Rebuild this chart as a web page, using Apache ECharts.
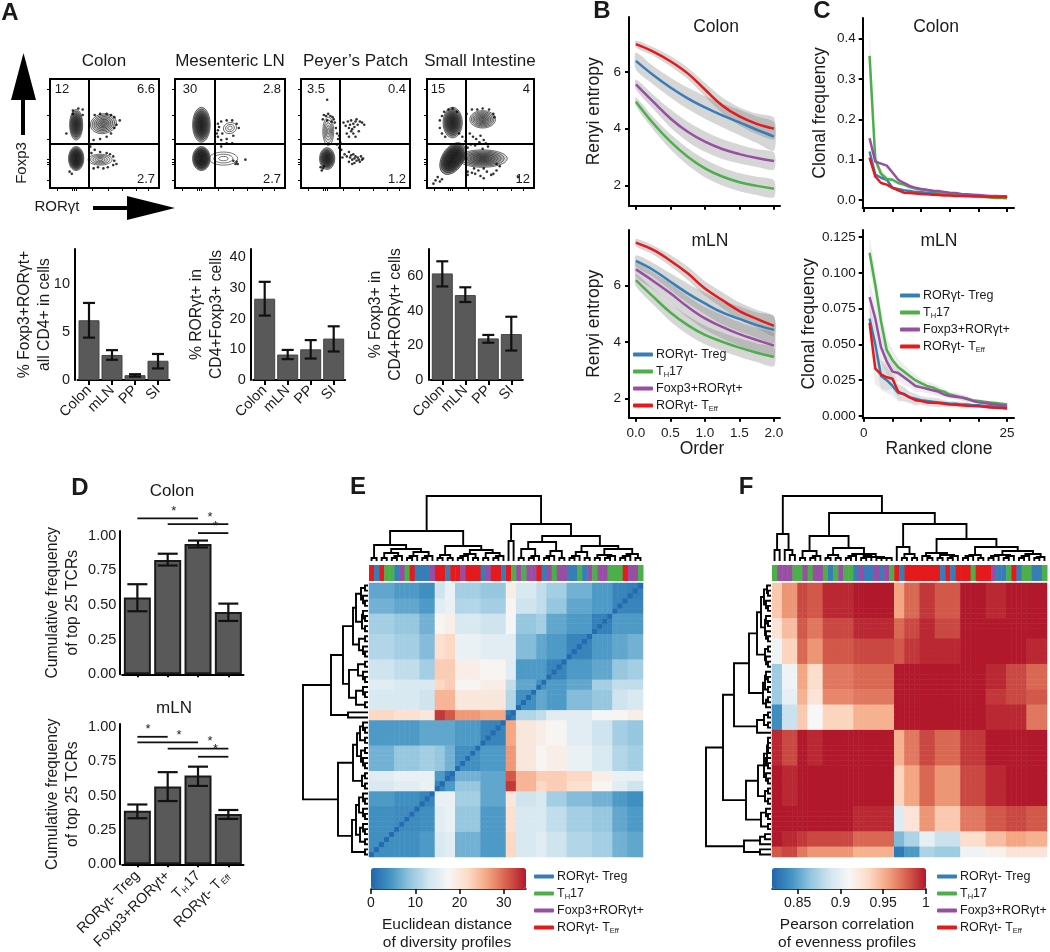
<!DOCTYPE html>
<html>
<head>
<meta charset="utf-8">
<title>Figure</title>
<script src="https://cdn.jsdelivr.net/npm/echarts@6/dist/echarts.min.js"></script>
<style>html,body{margin:0;padding:0;background:#fff}#fig{width:1050px;height:952px}</style>
</head>
<body>
<div id="fig"></div>
<script>
// ---- data ----
var subsetNames = ['RORγt- Treg', 'TH17', 'Foxp3+RORγt+', 'RORγt- TEff'];
var subsetColors = ['#377eb8', '#4daf4a', '#984ea3', '#e41a1c'];

// A: flow plots. gates in axis units, corner numbers [upper left, upper right, lower right]
var flowTitles = ['Colon', 'Mesenteric LN', 'Peyer’s Patch', 'Small Intestine'];
var flowCorners = [['12', '6.6', '2.7'], ['30', '2.8', '2.7'], ['3.5', '0.4', '1.2'], ['15', '4', '12']];
var gateX = 36, gateY = 41;
var flowTicksX = [7, 20, 22, 24, 39, 53, 66, 79, 90];
var flowTicksY = [7, 22, 24, 26, 45, 67, 91];
// cx, cy, rx, ry, rings, fill alpha, tilt
var colonBlobs = [[24, 58, 6, 14, 9, 0.28, 0], [24, 27, 7, 11, 9, 0.42, 0], [49, 59, 12, 9, 7, 0.1, 0.2], [46, 26, 11, 5, 5, 0.05, 0]];
var lnBlobs = [[24, 58, 8, 16, 9, 0.32, 0], [24, 27, 8, 11, 9, 0.46, 0], [50, 55, 6, 5, 3, 0, 0.3], [44, 27, 13, 6, 3, 0, 0]];
var ppBlobs = [[25, 52, 5, 13, 5, 0.05, 0], [24, 27, 7, 10, 8, 0.36, 0]];
var siBlobs = [[24, 60, 9, 14, 9, 0.3, 0], [52, 63, 12, 8, 8, 0.1, 0], [24, 27, 10, 16, 9, 0.44, -0.55], [52, 27, 23, 8, 8, 0.17, 0]];
var colonDots = [[21,71],[26,73],[30,72],[21,68],[30,67],[15,50],[41,67],[46,68],[52,68],[56,67],[59,65],[64,62],[61,58],[59,55],[56,50],[52,47],[46,45],[40,44],[37,38],[41,35],[58,29],[59,25],[61,22],[58,21],[53,19],[49,18],[44,19],[40,18],[18,15],[20,13],[38,32],[46,33],[52,32],[55,31]];
var lnDots = [[39,59],[42,61],[39,53],[39,47],[47,62],[52,62],[56,59],[58,55],[53,48],[47,45],[42,44],[38,50],[42,38],[47,41],[52,41],[53,25],[57,22],[64,26],[55,22],[40,56],[43,50],[56,24]];
var ppDots = [[24,81],[21,67],[23,66],[25,68],[27,66],[29,65],[20,63],[24,62],[28,61],[30,63],[31,60],[32,55],[33,50],[35,48],[34,45],[36,42],[33,40],[35,37],[37,35],[39,60],[41,57],[43,61],[44,55],[45,58],[46,62],[47,54],[48,59],[49,56],[50,61],[51,63],[52,58],[54,61],[56,60],[58,58],[42,50],[44,47],[46,52],[48,50],[50,47],[53,52],[40,31],[42,29],[44,33],[45,28],[46,30],[47,26],[48,31],[49,27],[50,29],[51,25],[52,28],[53,26],[54,24],[55,29],[56,26],[57,27],[49,23],[47,22],[44,24],[38,28],[19,16],[20,18],[18,19],[21,20]];
var siDots = [[12,62],[14,66],[16,70],[20,72],[24,73],[28,70],[12,55],[14,50],[17,47],[30,50],[33,47],[37,68],[42,72],[47,72],[52,73],[58,72],[62,68],[63,65],[40,50],[43,47],[46,45],[50,48],[41,40],[45,39],[49,42],[53,44],[55,41],[57,38],[52,36],[38,37],[36,43],[6,4],[8,7],[10,10],[12,6],[14,8],[38,15],[42,14],[45,13],[48,16],[50,11],[53,9],[56,15],[60,12],[62,13],[65,16],[68,20],[65,22],[85,10],[38,12],[44,18],[53,18]];

// A: bars
var tissueNames = ['Colon', 'mLN', 'PP', 'SI'];
var doubleAll = [6.2, 2.6, 0.5, 2.0];
var doubleAllErr = [[4.4, 8.0], [2.1, 3.1], [0.35, 0.6], [1.2, 2.7]];
var rorInFoxp3 = [26.5, 8.3, 10, 13.5];
var rorInFoxp3Err = [[21, 32], [6.8, 9.8], [7, 13], [9.3, 17.5]];
var foxp3InRor = [61.5, 49, 24, 26.5];
var foxp3InRorErr = [[54, 68.5], [45, 53.5], [21.5, 26], [17, 36.5]];

// B: Renyi entropy at orders 0..2
var orders = [0, 0.25, 0.5, 0.75, 1, 1.25, 1.5, 1.75, 2];
var colonTreg = [6.39, 5.89, 5.45, 5.07, 4.75, 4.47, 4.22, 3.96, 3.72];
var colonTh17 = [4.95, 4.19, 3.54, 3.01, 2.6, 2.31, 2.11, 1.98, 1.88];
var colonDouble = [5.56, 4.95, 4.36, 3.89, 3.54, 3.28, 3.1, 2.96, 2.86];
var colonTeff = [6.98, 6.72, 6.38, 5.95, 5.38, 4.82, 4.43, 4.17, 4.0];
var colonSpread = [[0.3, 0.32, 0.35, 0.38, 0.4, 0.42, 0.45, 0.47, 0.5], [0.15, 0.22, 0.27, 0.3, 0.32, 0.32, 0.32, 0.32, 0.3], [0.17, 0.25, 0.32, 0.35, 0.36, 0.35, 0.33, 0.31, 0.3], [0.12, 0.15, 0.18, 0.2, 0.24, 0.28, 0.32, 0.36, 0.38]];
var lnTreg = [6.88, 6.56, 6.14, 5.73, 5.37, 5.05, 4.82, 4.6, 4.43];
var lnTh17 = [6.2, 5.61, 5.05, 4.6, 4.25, 4.01, 3.8, 3.62, 3.47];
var lnDouble = [6.58, 6.17, 5.73, 5.25, 4.84, 4.54, 4.28, 4.07, 3.87];
var lnTeff = [7.53, 7.27, 6.89, 6.44, 5.9, 5.49, 5.1, 4.82, 4.57];
var lnSpread = [[0.2, 0.25, 0.3, 0.35, 0.38, 0.42, 0.45, 0.45, 0.48], [0.22, 0.28, 0.32, 0.33, 0.33, 0.33, 0.33, 0.33, 0.33], [0.25, 0.3, 0.35, 0.38, 0.4, 0.42, 0.42, 0.42, 0.42], [0.13, 0.16, 0.2, 0.24, 0.26, 0.28, 0.3, 0.32, 0.35]];

// C: clonal frequency by rank
var ranks = [1,2,3,4,5,6,7,8,9,10,11,12,13,14,15,16,17,18,19,20,21,22,23,24,25];
var cColonTreg = [.12,.063,.055,.05,.03,.027,.024,.022,.02,.019,.018,.017,.016,.015,.014,.013,.012,.011,.01,.009,.008,.008,.007,.007,.006];
var cColonTh17 = [.357,.1,.065,.052,.05,.042,.038,.032,.028,.026,.024,.022,.02,.018,.016,.014,.012,.011,.009,.008,.007,.006,.005,.005,.004];
var cColonDouble = [.153,.095,.09,.085,.068,.05,.042,.035,.03,.027,.025,.023,.022,.02,.018,.017,.015,.014,.013,.012,.011,.01,.01,.009,.009];
var cColonTeff = [.105,.058,.042,.038,.03,.024,.018,.017,.016,.015,.014,.013,.012,.011,.011,.01,.01,.009,.009,.009,.008,.008,.007,.007,.007];
var cColonBand = [.07,.02,.012,.008,.006,.005,.004,.004,.003,.003,.003,.003,.002,.002,.002,.002,.002,.002,.002,.002,.002,.002,.002,.002,.002];
var cLnTreg = [.068,.05,.028,.025,.021,.016,.0155,.013,.012,.011,.0105,.01,.0095,.009,.0085,.0085,.008,.008,.0075,.0075,.007,.007,.0065,.0065,.006];
var cLnTh17 = [.114,.0915,.066,.046,.039,.034,.031,.028,.025,.023,.021,.02,.018,.017,.015,.014,.013,.012,.011,.0105,.01,.0095,.009,.0085,.008];
var cLnDouble = [.083,.068,.048,.038,.031,.03,.027,.024,.021,.02,.019,.018,.017,.015,.014,.0135,.013,.012,.0105,.0095,.009,.0085,.008,.0075,.007];
var cLnTeff = [.065,.033,.029,.027,.026,.017,.015,.013,.011,.0105,.0095,.0092,.009,.0085,.008,.0078,.0075,.0072,.007,.0068,.0065,.006,.0058,.0055,.0052];
var cLnBand = [.011,.011,.01,.009,.007,.006,.005,.004,.004,.003,.003,.003,.003,.002,.002,.002,.002,.002,.001,.001,.001,.001,.001,.001,.001];

// D: cumulative frequency
var dNames = ['RORγt- Treg', 'Foxp3+RORγt+', 'T_H17', 'RORγt- T_Eff'];
var dColon = [0.555, 0.825, 0.94, 0.45];
var dColonErr = [[0.455, 0.65], [0.785, 0.87], [0.915, 0.965], [0.385, 0.51]];
var dLn = [0.39, 0.565, 0.645, 0.365];
var dLnErr = [[0.335, 0.435], [0.46, 0.67], [0.57, 0.71], [0.33, 0.395]];
// from bar, to bar, height, star position along the bars
var dColonSig = [[0, 2, 1.125, 1.2], [1, 3, 1.084, 2.4], [2, 3, 1.019, 2.58]];
var dLnSig = [[0, 1, 0.927, 0.35], [0, 2, 0.886, 1.37], [1, 3, 0.841, 2.4], [2, 3, 0.782, 2.58]];

// E: distance matrix in bands of cells, left to right = bottom to top, lower triangle
var eucBands = [5, 5, 3, 2, 2, 5, 5, 2, 4, 2, 4, 5, 4, 3, 3];
var eucBlocks = [
  [4],
  [4, 3.5],
  [5, 4, 3],
  [14, 15, 16, 3],
  [15, 16, 16, 5, 2],
  [7, 9, 10, 9, 7, 4],
  [5, 5, 6, 6, 6, 5, 3],
  [22, 21, 20, 33, 31, 27, 26, 2],
  [14, 14, 13, 25, 25, 20, 20, 11, 4],
  [15, 14, 14, 22, 23, 18, 19, 12, 6, 4],
  [13, 12, 10, 23, 23, 19, 18, 15, 5, 5, 3],
  [11, 10, 8, 21, 22, 16, 15, 15, 8, 6, 5, 3],
  [10, 9, 7, 18, 19, 14, 13, 17, 9, 10, 6, 5, 2.5],
  [7, 6, 5, 15, 16, 11, 10, 18, 13, 12, 9, 6, 5, 3],
  [6, 5, 4, 13, 16, 10, 9, 19, 14, 12, 10, 7, 5, 3, 2.5]
];
var eucStrip = 'RBRGGBPGRBBBPRRBRRPRRRBPRRBRGPGPPRBPGPPBBGBPGPPGGGRPPG';
var eucTree = (function () {
  var p = [3, 0, 0], t = [5, p, 0];
  return [65,
    [30, [16, p, [12, [8, p, t], [9, t, t]]], [15, [6, p, p], [11, [7, t, p], [8, p, t]]]],
    [37, [20, 0, 0], [25, [19, [12, p, t], [10, t, p]], [15, [9, t, p], [12, [6, p, t], [7, t, p]]]]]
  ];
})();

// F: correlation in bands of cells, rows top to bottom
var corColBands = [2, 3, 2, 3, 6, 8, 2, 3, 3, 5, 5, 4, 4, 4];
var corRowBands = [7, 4, 5, 5, 3, 5, 7, 8, 5, 3, 2];
var corBlocks = [
  [.94, .96, .985, .98, .995, 1, .955, .975, .99, .98, 1, .995, 1, 1],
  [.925, .945, .98, .97, .985, .995, .975, .985, .995, .985, 1, 1, 1, 1],
  [.905, .935, .975, .96, .98, .985, .98, .99, .995, .995, 1, 1, 1, .995],
  [.87, .905, .955, .93, .97, .975, 1, 1, 1, 1, 1, .995, .985, .975],
  [.87, .90, .95, .925, .965, .97, 1, 1, 1, 1, 1, .99, .985, .98],
  [.84, .885, .94, .91, .935, .95, 1, 1, 1, 1, 1, .995, .995, .97],
  [.995, .985, 1, .995, 1, 1, .95, .97, .985, .975, .99, 1, 1, 1],
  [1, .995, 1, 1, 1, 1, .935, .955, .975, .96, .985, .995, 1, 1],
  [1, 1, 1, 1, 1, .995, .895, .925, .96, .94, .97, .98, .985, .98],
  [1, .995, .99, .985, .985, .975, .86, .875, .9, .885, .93, .945, .955, .95],
  [.98, .985, .97, .96, .96, .95, .83, .845, .875, .87, .905, .915, .925, .925]
];
var corStrip = 'GPPPGGPGPPGBGPGGBPBBPBPGRBRRRRRRRBRBRRRGRRRPBBGRBGGBBG';
var corTree = (function () {
  var p = [3, 0, 0], t = [5, p, 0];
  return [65,
    [27, [11, 0, 0], [11, 0, [6, 0, 0]]],
    [48,
      [25, [10, p, t], [13, [6, p, p], [7, t, [4, t, [3, p, p]]]]],
      [37, [14, 0, [7, [3, 0, 0], [3, 0, 0]]],
        [22, [8, [5, 0, p], [6, p, t]], [14, [6, t, p], [10, [6, t, t], [7, t, [4, p, 0]]]]]]
    ]
  ];
})();
var rdBu = ['#2166ac', '#4393c3', '#92c5de', '#d1e5f0', '#f7f7f7', '#fddbc7', '#f4a582', '#d6604d', '#b2182b'];

// ---- option building ----
var FONT = '"Liberation Sans", Arial, sans-serif';
var grids = [], xAxes = [], yAxes = [], series = [], texts = [];

function addGrid(left, top, width, height, x, y, extra) {
  grids.push(Object.assign({ left: left, top: top, width: width, height: height, containLabel: false }, extra || {}));
  x.gridIndex = y.gridIndex = grids.length - 1;
  xAxes.push(x); yAxes.push(y);
  return grids.length - 1;
}
function axis(o) {
  return Object.assign({
    axisLine: { show: true, onZero: false, lineStyle: { color: '#000', width: 2 } },
    axisTick: { show: true, length: 4, lineStyle: { color: '#000', width: 2 } },
    axisLabel: { color: '#1a1a1a', fontFamily: FONT, fontSize: 14 },
    splitLine: { show: false },
    nameTextStyle: { color: '#1a1a1a', fontFamily: FONT, fontSize: 16.5 },
    nameLocation: 'middle', nameRotate: 90, nameMoveOverlap: false
  }, o);
}
function hidden(o) { return Object.assign({ show: false, splitLine: { show: false } }, o); }
function label(s, x, y, size, o) {
  o = o || {};
  texts.push({
    type: 'text', x: x, y: y, rotation: o.rotation || 0, z: 50,
    style: { text: s, fill: o.fill || '#1a1a1a', font: (o.bold ? 'bold ' : '') + size + 'px ' + FONT, align: o.align || 'center', verticalAlign: 'middle', lineHeight: o.lineHeight }
  });
}

// error bars and dendrograms
function errorSeries(g, errs, capPx) {
  series.push({
    type: 'custom', xAxisIndex: g, yAxisIndex: g, z: 5,
    data: errs.map(function (e, i) { return [i, e[0], e[1]]; }),
    renderItem: function (params, api) {
      var a = api.coord([api.value(0), api.value(1)]), b = api.coord([api.value(0), api.value(2)]);
      var st = { stroke: '#111', lineWidth: 2.2, fill: null };
      return { type: 'group', children: [
        { type: 'line', shape: { x1: a[0], y1: a[1], x2: b[0], y2: b[1] }, style: st },
        { type: 'line', shape: { x1: a[0] - capPx, y1: a[1], x2: a[0] + capPx, y2: a[1] }, style: st },
        { type: 'line', shape: { x1: b[0] - capPx, y1: b[1], x2: b[0] + capPx, y2: b[1] }, style: st }
      ] };
    }
  });
}
function barPanel(g, values, errs, barW, border, capPx) {
  series.push({
    type: 'bar', xAxisIndex: g, yAxisIndex: g, data: values, barWidth: barW,
    itemStyle: { color: '#595959', borderColor: border, borderWidth: barW > 24 ? 2 : 1 }
  });
  errorSeries(g, errs, capPx);
}
function treeLinks(tree) {
  var links = [], next = 0;
  function walk(n) {
    if (!n) { next++; return [next - 0.5, 0]; }
    var a = walk(n[1]), b = walk(n[2]);
    links.push([a[0], b[0], n[0], a[1], b[1]]);
    return [(a[0] + b[0]) / 2, n[0]];
  }
  walk(tree);
  return links;
}
function dendroSeries(tree, g, sideways) {
  series.push({
    type: 'custom', xAxisIndex: g, yAxisIndex: g, clip: false,
    data: treeLinks(tree),
    renderItem: function (params, api) {
      var x1 = api.value(0), x2 = api.value(1), h = api.value(2), h1 = api.value(3), h2 = api.value(4);
      var raw = [[x1, h1], [x1, h], [x2, h], [x2, h2]];
      var pts = raw.map(function (p) { return api.coord(sideways ? [p[1], p[0]] : p); });
      return { type: 'polyline', shape: { points: pts }, style: { stroke: '#000', lineWidth: 1.9, fill: null } };
    }
  });
}
function stripSeries(codes, g) {
  var lookup = { B: subsetColors[0], G: subsetColors[1], P: subsetColors[2], R: subsetColors[3] };
  series.push({
    type: 'custom', xAxisIndex: g, yAxisIndex: g,
    data: codes.split('').map(function (c, i) { return [i, 0, c]; }),
    renderItem: function (params, api) {
      var i = api.value(0), a = api.coord([i, 0]), b = api.coord([i + 1, 1]);
      return { type: 'rect', shape: { x: a[0], y: b[1], width: b[0] - a[0] + 0.5, height: a[1] - b[1] }, style: { fill: lookup[codes[i]] } };
    }
  });
}
function expand(bands) {
  var out = [];
  bands.forEach(function (w, b) { for (var k = 0; k < w; k++) out.push(b); });
  return out;
}

// ---- panel A, flow plots ----
var flowLefts = [50, 175, 301, 427], flowWidths = [109, 110, 109, 107];
var flowDots = [colonDots, lnDots, ppDots, siDots], flowBlobs = [colonBlobs, lnBlobs, ppBlobs, siBlobs];
flowTitles.forEach(function (title, k) {
  var tick = { show: true, length: 3, lineStyle: { color: '#000', width: 1 } };
  var g = addGrid(flowLefts[k], 79, flowWidths[k], 109,
    axis({ type: 'value', min: 0, max: 100, axisLine: { show: false }, axisTick: Object.assign({ customValues: flowTicksX }, tick), axisLabel: { show: false } }),
    axis({ type: 'value', min: 0, max: 100, axisLine: { show: false }, axisTick: Object.assign({ customValues: flowTicksY }, tick), axisLabel: { show: false } }),
    { show: true, borderColor: '#000', borderWidth: 2, backgroundColor: '#fff' });
  series.push({
    type: 'custom', xAxisIndex: g, yAxisIndex: g, z: 3,
    data: flowBlobs[k],
    renderItem: function (params, api) {
      var c = api.coord([api.value(0), api.value(1)]), s = api.size([api.value(2), api.value(3)]);
      var n = api.value(4), a = api.value(5), kids = [];
      for (var i = 0; i < n; i++) {
        var f = 1 - i / n;
        kids.push({
          type: 'ellipse', x: c[0], y: c[1], rotation: api.value(6),
          shape: { cx: 0, cy: 0, rx: s[0] * f, ry: s[1] * f },
          style: { stroke: '#333', lineWidth: 0.7, fill: 'rgba(20,20,20,' + a + ')' }
        });
      }
      return { type: 'group', children: kids };
    }
  });
  series.push({
    type: 'scatter', xAxisIndex: g, yAxisIndex: g, z: 4, data: flowDots[k], symbolSize: 2.6,
    itemStyle: { color: '#000' },
    markLine: { silent: true, symbol: 'none', label: { show: false }, animation: false,
      lineStyle: { color: '#000', width: 2, type: 'solid' }, data: [{ xAxis: gateX }, { yAxis: gateY }] }
  });
  var mid = flowLefts[k] + flowWidths[k] / 2;
  label(title, k === 3 ? 480 : (k === 0 ? 104 : mid), 61, 17);
  label(flowCorners[k][0], flowLefts[k] + (k === 0 ? 12 : (k === 3 ? 11 : 15)), 89, 13);
  label(flowCorners[k][1], flowLefts[k] + flowWidths[k] - 4, 89, 13, { align: 'right' });
  label(flowCorners[k][2], flowLefts[k] + flowWidths[k] - 4, 179, 13, { align: 'right' });
});

// ---- panel A, bars ----
function tissueAxis() {
  return axis({ type: 'category', data: tissueNames, axisTick: { show: true, alignWithLabel: true, length: 5, lineStyle: { color: '#000', width: 2 } },
    axisLabel: { rotate: 45, interval: 0, color: '#1a1a1a', fontFamily: FONT, fontSize: 14.5, margin: 8 } });
}
var g1 = addGrid(77.5, 249, 92, 131, tissueAxis(), axis({ type: 'value', min: 0, max: 13.6, offset: 2.5, axisTick: { customValues: [0, 5, 10], length: 5, lineStyle: { color: '#000', width: 2 } },
  axisLabel: { customValues: [0, 5, 10], color: '#1a1a1a', fontFamily: FONT, fontSize: 14.5, margin: 5 },
  name: '% Foxp3+RORγt+\nall CD4+ in cells', nameGap: 20, nameTextStyle: { color: '#1a1a1a', fontFamily: FONT, fontSize: 15.7, lineHeight: 20 } }));
barPanel(g1, doubleAll, doubleAllErr, 21, '#444', 6);
var g2 = addGrid(253.2, 249, 92, 131, tissueAxis(), axis({ type: 'value', min: 0, max: 42.7, offset: 2.5, axisTick: { customValues: [0, 10, 20, 30, 40], length: 5, lineStyle: { color: '#000', width: 2 } },
  axisLabel: { customValues: [0, 10, 20, 30, 40], color: '#1a1a1a', fontFamily: FONT, fontSize: 14.5, margin: 5 },
  name: '% RORγt+ in\nCD4+Foxp3+ cells', nameGap: 24, nameTextStyle: { color: '#1a1a1a', fontFamily: FONT, fontSize: 15.7, lineHeight: 20 } }));
barPanel(g2, rorInFoxp3, rorInFoxp3Err, 21, '#444', 6);
var g3 = addGrid(430.8, 249, 92, 131, tissueAxis(), axis({ type: 'value', min: 0, max: 75.6, offset: 2.5, axisTick: { customValues: [0, 20, 40, 60], length: 5, lineStyle: { color: '#000', width: 2 } },
  axisLabel: { customValues: [0, 20, 40, 60], color: '#1a1a1a', fontFamily: FONT, fontSize: 14.5, margin: 5 },
  name: '% Foxp3+ in\nCD4+RORγt+ cells', nameGap: 23, nameTextStyle: { color: '#1a1a1a', fontFamily: FONT, fontSize: 15.7, lineHeight: 20 } }));
barPanel(g3, foxp3InRor, foxp3InRorErr, 21, '#444', 6);

// ---- panels B and C ----
function bandLines(g, xs, lines, spreads, bandColor) {
  var curved = xs.length < 10;
  lines.forEach(function (vals, k) {
    var sp = spreads[k];
    if (!sp) return;
    series.push({
      type: 'custom', xAxisIndex: g, yAxisIndex: g, z: 2, silent: true,
      data: vals.map(function (v, i) { return [xs[i], v - sp[i], v + sp[i]]; }),
      renderItem: function (params, api) {
        if (params.dataIndex !== 0) return null;
        var top = [], bottom = [];
        vals.forEach(function (v, i) {
          top.push(api.coord([xs[i], v + sp[i]]));
          bottom.unshift(api.coord([xs[i], v - sp[i]]));
        });
        return { type: 'polygon', shape: { points: top.concat(bottom), smooth: curved ? 0.25 : 0 }, style: { fill: bandColor } };
      }
    });
  });
  lines.forEach(function (vals, k) {
    series.push({
      name: subsetNames[k], type: 'line', xAxisIndex: g, yAxisIndex: g, z: 3 + k,
      data: vals.map(function (v, i) { return [xs[i], v]; }),
      smooth: curved ? 0.4 : false, symbol: 'none', lineStyle: { color: subsetColors[k], width: 2.5 }, itemStyle: { color: subsetColors[k] }
    });
  });
}
function entropyPanel(top, height, yMin, yMax, showLabels, lines, spreads) {
  var g = addGrid(629, top, 151, height,
    axis({ type: 'value', min: -0.1, max: 2.087, nameRotate: 0,
      axisTick: { customValues: [0, 0.5, 1, 1.5, 2], length: 4, lineStyle: { color: '#000', width: 2 } },
      axisLabel: { show: showLabels, customValues: [0, 0.5, 1, 1.5, 2], color: '#1a1a1a', fontFamily: FONT, fontSize: 13.5, margin: 9, formatter: function (v) { return v.toFixed(1); } } }),
    axis({ type: 'value', min: yMin, max: yMax, name: 'Renyi entropy', nameGap: 26, nameTextStyle: { color: '#1a1a1a', fontFamily: FONT, fontSize: 17.5 },
      axisTick: { customValues: [2, 4, 6], length: 4, lineStyle: { color: '#000', width: 2 } },
      axisLabel: { customValues: [2, 4, 6], color: '#1a1a1a', fontFamily: FONT, fontSize: 13.5, margin: 8 } }));
  bandLines(g, orders, lines, spreads, 'rgba(120,120,120,0.3)');
}
entropyPanel(17, 188.7, 1.28, 7.94, false, [colonTreg, colonTh17, colonDouble, colonTeff], colonSpread);
entropyPanel(230, 187.7, 1.31, 7.98, true, [lnTreg, lnTh17, lnDouble, lnTeff], lnSpread);
label('Colon', 716, 27, 17.5);
label('mLN', 710, 241, 17.5);
label('Order', 702, 449, 17.5);

function clonalPanel(top, height, yMin, yMax, ticks, digits, gap, showLabels, lines, spreads) {
  var g = addGrid(862.7, top, 151.3, height,
    axis({ type: 'value', min: -0.2, max: 26.2, nameRotate: 0,
      axisTick: { customValues: [0, 5, 10, 15, 20, 25], length: 4, lineStyle: { color: '#000', width: 2 } },
      axisLabel: { show: showLabels, customValues: [0, 25], color: '#1a1a1a', fontFamily: FONT, fontSize: 13.5, margin: 9 } }),
    axis({ type: 'value', min: yMin, max: yMax, name: 'Clonal frequency', nameGap: gap, nameTextStyle: { color: '#1a1a1a', fontFamily: FONT, fontSize: 17.5 },
      axisTick: { customValues: ticks, length: 4, lineStyle: { color: '#000', width: 2 } },
      axisLabel: { customValues: ticks, color: '#1a1a1a', fontFamily: FONT, fontSize: 13.5, margin: 7, formatter: function (v) { return v.toFixed(digits); } } }));
  bandLines(g, ranks, lines, spreads, 'rgba(130,130,130,0.14)');
}
clonalPanel(18, 190, -0.02, 0.451, [0, 0.1, 0.2, 0.3, 0.4], 1, 34, false, [cColonTreg, cColonTh17, cColonDouble, cColonTeff], [null, cColonBand, null, null]);
clonalPanel(230, 187.7, -0.0012, 0.1299, [0, 0.025, 0.05, 0.075, 0.1, 0.125], 3, 45, true, [cLnTreg, cLnTh17, cLnDouble, cLnTeff], [cLnBand, cLnBand, cLnBand, cLnBand]);
label('Colon', 936, 27, 17.5);
label('mLN', 939, 241, 17.5);
label('Ranked clone', 939, 449, 17.5);

// ---- panel D ----
function richName(s) {
  var m = s.indexOf('_');
  if (m < 0) return '{a|' + s + '}';
  var sub = s.charAt(m + 1);
  if (s.indexOf('Eff') > 0) return '{a|' + s.slice(0, m) + '}{s|Eff}';
  return '{a|' + s.slice(0, m) + '}{s|' + sub + '}{a|' + s.slice(m + 2) + '}';
}
function sigSeries(g, rows) {
  series.push({
    type: 'custom', xAxisIndex: g, yAxisIndex: g, clip: false, z: 6,
    data: rows,
    renderItem: function (params, api) {
      var a = api.coord([api.value(0), api.value(2)]), b = api.coord([api.value(1), api.value(2)]);
      var star = api.value(3), base = Math.floor(star), step = api.size([1, 0])[0];
      var sx = api.coord([base, 0])[0] + (star - base) * step;
      return { type: 'group', children: [
        { type: 'line', shape: { x1: a[0], y1: a[1], x2: b[0], y2: b[1] }, style: { stroke: '#111', lineWidth: 1.8, fill: null } },
        { type: 'text', x: sx, y: a[1] - 7, style: { text: '*', fill: '#222', font: '13px ' + FONT, align: 'center', verticalAlign: 'middle' } }
      ] };
    }
  });
}
function cumPanel(top, height, yMax, showLabels, values, errs, sig) {
  var g = addGrid(122.2, top, 121.3, height,
    axis({ type: 'category', data: dNames, axisTick: { show: true, alignWithLabel: true, length: 3, lineStyle: { color: '#000', width: 2 } },
      axisLabel: { show: showLabels, rotate: 45, interval: 0, margin: 9, formatter: richName,
        rich: { a: { fontFamily: FONT, fontSize: 14.5, color: '#1a1a1a' }, s: { fontFamily: FONT, fontSize: 8.5, color: '#1a1a1a', padding: [6, 1, 0, 1] } } } }),
    axis({ type: 'value', min: 0, max: yMax, offset: 2.9,
      axisTick: { customValues: [0, 0.25, 0.5, 0.75, 1], length: 5, lineStyle: { color: '#000', width: 2 } },
      axisLabel: { customValues: [0, 0.25, 0.5, 0.75, 1], color: '#1a1a1a', fontFamily: FONT, fontSize: 14.5, margin: 3, formatter: function (v) { return v.toFixed(2); } },
      name: 'Cumulative frequency\nof top 25 TCRs', nameGap: 37, nameTextStyle: { color: '#1a1a1a', fontFamily: FONT, fontSize: 15.7, lineHeight: 20 } }));
  barPanel(g, values, errs, 27, '#1a1a1a', 10);
  sigSeries(g, sig);
}
cumPanel(531, 143.3, 1.034, false, dColon, dColonErr, dColonSig);
cumPanel(724, 143.3, 1.02, true, dLn, dLnErr, dLnSig);
label('Colon', 172, 491, 17);
label('mLN', 174, 708, 17);

// ---- panels E and F ----
var leafAxis = []; for (var n = 0; n < 54; n++) leafAxis.push(n);
function heatPanel(opts) {
  var gt = addGrid(opts.left, 493, opts.width, 68, hidden({ type: 'value', min: 0, max: 54 }), hidden({ type: 'value', min: 0, max: 68 }));
  dendroSeries(opts.tree, gt, false);
  var gs = addGrid(opts.left, 565, opts.width, 16, hidden({ type: 'value', min: 0, max: 54 }), hidden({ type: 'value', min: 0, max: 1 }));
  stripSeries(opts.strip, gs);
  var gl = addGrid(opts.left - 69, 583, 68, 274, hidden({ type: 'value', min: 0, max: 68, inverse: true }), hidden({ type: 'value', min: 0, max: 54 }));
  dendroSeries(opts.tree, gl, true);
  var gh = addGrid(opts.left, 583, opts.width, 274, hidden({ type: 'category', data: leafAxis }), hidden({ type: 'category', data: leafAxis }));
  series.push({ type: 'heatmap', xAxisIndex: gh, yAxisIndex: gh, data: opts.cells, itemStyle: { borderWidth: 0 }, progressive: 0 });
  var heatIndex = series.length - 1;
  addGrid(opts.barLeft, 868, opts.barWidth, 21,
    axis({ type: 'value', min: opts.min, max: opts.max, nameRotate: 0,
      axisTick: { customValues: opts.ticks, length: 5, lineStyle: { color: '#000', width: 1.5 } },
      axisLine: { show: true, onZero: false, lineStyle: { color: '#000', width: 1.5 } },
      axisLabel: { customValues: opts.ticks, color: '#1a1a1a', fontFamily: FONT, fontSize: 14, margin: 7, formatter: opts.tickText } }),
    hidden({ type: 'value', min: 0, max: 1 }));
  return {
    type: 'continuous', seriesIndex: heatIndex, min: opts.min, max: opts.max, orient: 'horizontal', calculable: false, hoverLink: false,
    left: opts.barLeft, top: 868, itemWidth: 21, itemHeight: opts.barWidth, padding: 0, text: null, showLabel: false,
    handleSize: 0, indicatorSize: 0, inRange: { color: rdBu }, textStyle: { fontSize: 0 }
  };
}
var eucCellBand = expand(eucBands), eucCells = [];
for (var ci = 0; ci < 54; ci++) for (var cj = 0; cj < 54; cj++) {
  var bi = eucCellBand[ci], bj = eucCellBand[cj];
  eucCells.push([ci, cj, ci === cj ? 0.5 : (bi >= bj ? eucBlocks[bi][bj] : eucBlocks[bj][bi])]);
}
var corRow = expand(corRowBands), corCol = expand(corColBands), corCells = [];
for (var ri = 0; ri < 54; ri++) for (var rj = 0; rj < 54; rj++) {
  corCells.push([rj, 53 - ri, corBlocks[corRow[ri]][corCol[rj]]]);
}
var vmE = heatPanel({ left: 369, width: 274, tree: eucTree, strip: eucStrip, cells: eucCells, barLeft: 371, barWidth: 155, min: 0, max: 35, ticks: [0, 10, 20, 30], tickText: function (v) { return v; } });
var vmF = heatPanel({ left: 772, width: 275, tree: corTree, strip: corStrip, cells: corCells, barLeft: 772, barWidth: 154, min: 0.82, max: 1, ticks: [0.85, 0.9, 0.95, 1], tickText: function (v) { return String(v); } });
label('Euclidean distance', 447, 925, 15.5);
label('of diversity profiles', 447, 943, 15.5);
label('Pearson correlation', 847, 925, 15.5);
label('of evenness profiles', 847, 943, 15.5);

// ---- panel letters, gate arrows ----
label('A', 10, 13, 24, { bold: true });
label('B', 602, 11, 24, { bold: true });
label('C', 822, 11, 24, { bold: true });
label('D', 80, 488, 24, { bold: true });
label('E', 358, 487, 24, { bold: true });
label('F', 746, 487, 24, { bold: true });
label('Foxp3', 22, 163, 15, { rotation: Math.PI / 2 });
label('RORγt', 57, 207, 15);
var arrows = [
  { type: 'rect', shape: { x: 21, y: 98, width: 4, height: 37 }, style: { fill: '#000' } },
  { type: 'polygon', shape: { points: [[23.5, 53], [36, 100], [11, 100]] }, style: { fill: '#000' } },
  { type: 'rect', shape: { x: 93, y: 206, width: 36, height: 4 }, style: { fill: '#000' } },
  { type: 'polygon', shape: { points: [[175, 208], [127, 196], [127, 220]] }, style: { fill: '#000' } }
];

// legends sit on the same series names
var legendText = {
  a: { fontFamily: FONT, fontSize: 12.5, color: '#1a1a1a' },
  s: { fontFamily: FONT, fontSize: 7.5, color: '#1a1a1a', padding: [6, 0, 0, 0] }
};
function legendAt(left, top) {
  return {
    left: left, top: top, orient: 'vertical', data: subsetNames, selectedMode: false, padding: 0,
    icon: 'roundRect', itemWidth: 20, itemHeight: 4, itemGap: 2, inactiveColor: '#ccc',
    formatter: function (nm) {
      if (nm === 'TH17') return '{a|T}{s|H}{a|17}';
      if (nm === 'RORγt- TEff') return '{a|RORγt- T}{s|Eff}';
      return '{a|' + nm + '}';
    },
    textStyle: { rich: legendText, fontFamily: FONT, fontSize: 12.5, padding: [0, 0, 0, -2], lineHeight: 15 }
  };
}

var chart = echarts.init(document.getElementById('fig'), null, { renderer: 'canvas' });
chart.setOption({
  animation: false,
  backgroundColor: '#fff',
  grid: grids, xAxis: xAxes, yAxis: yAxes,
  legend: [legendAt(633, 347), legendAt(900, 288), legendAt(534, 869), legendAt(937, 869)],
  visualMap: [vmE, vmF],
  graphic: texts.concat(arrows),
  series: series
});
</script>
</body>
</html>
